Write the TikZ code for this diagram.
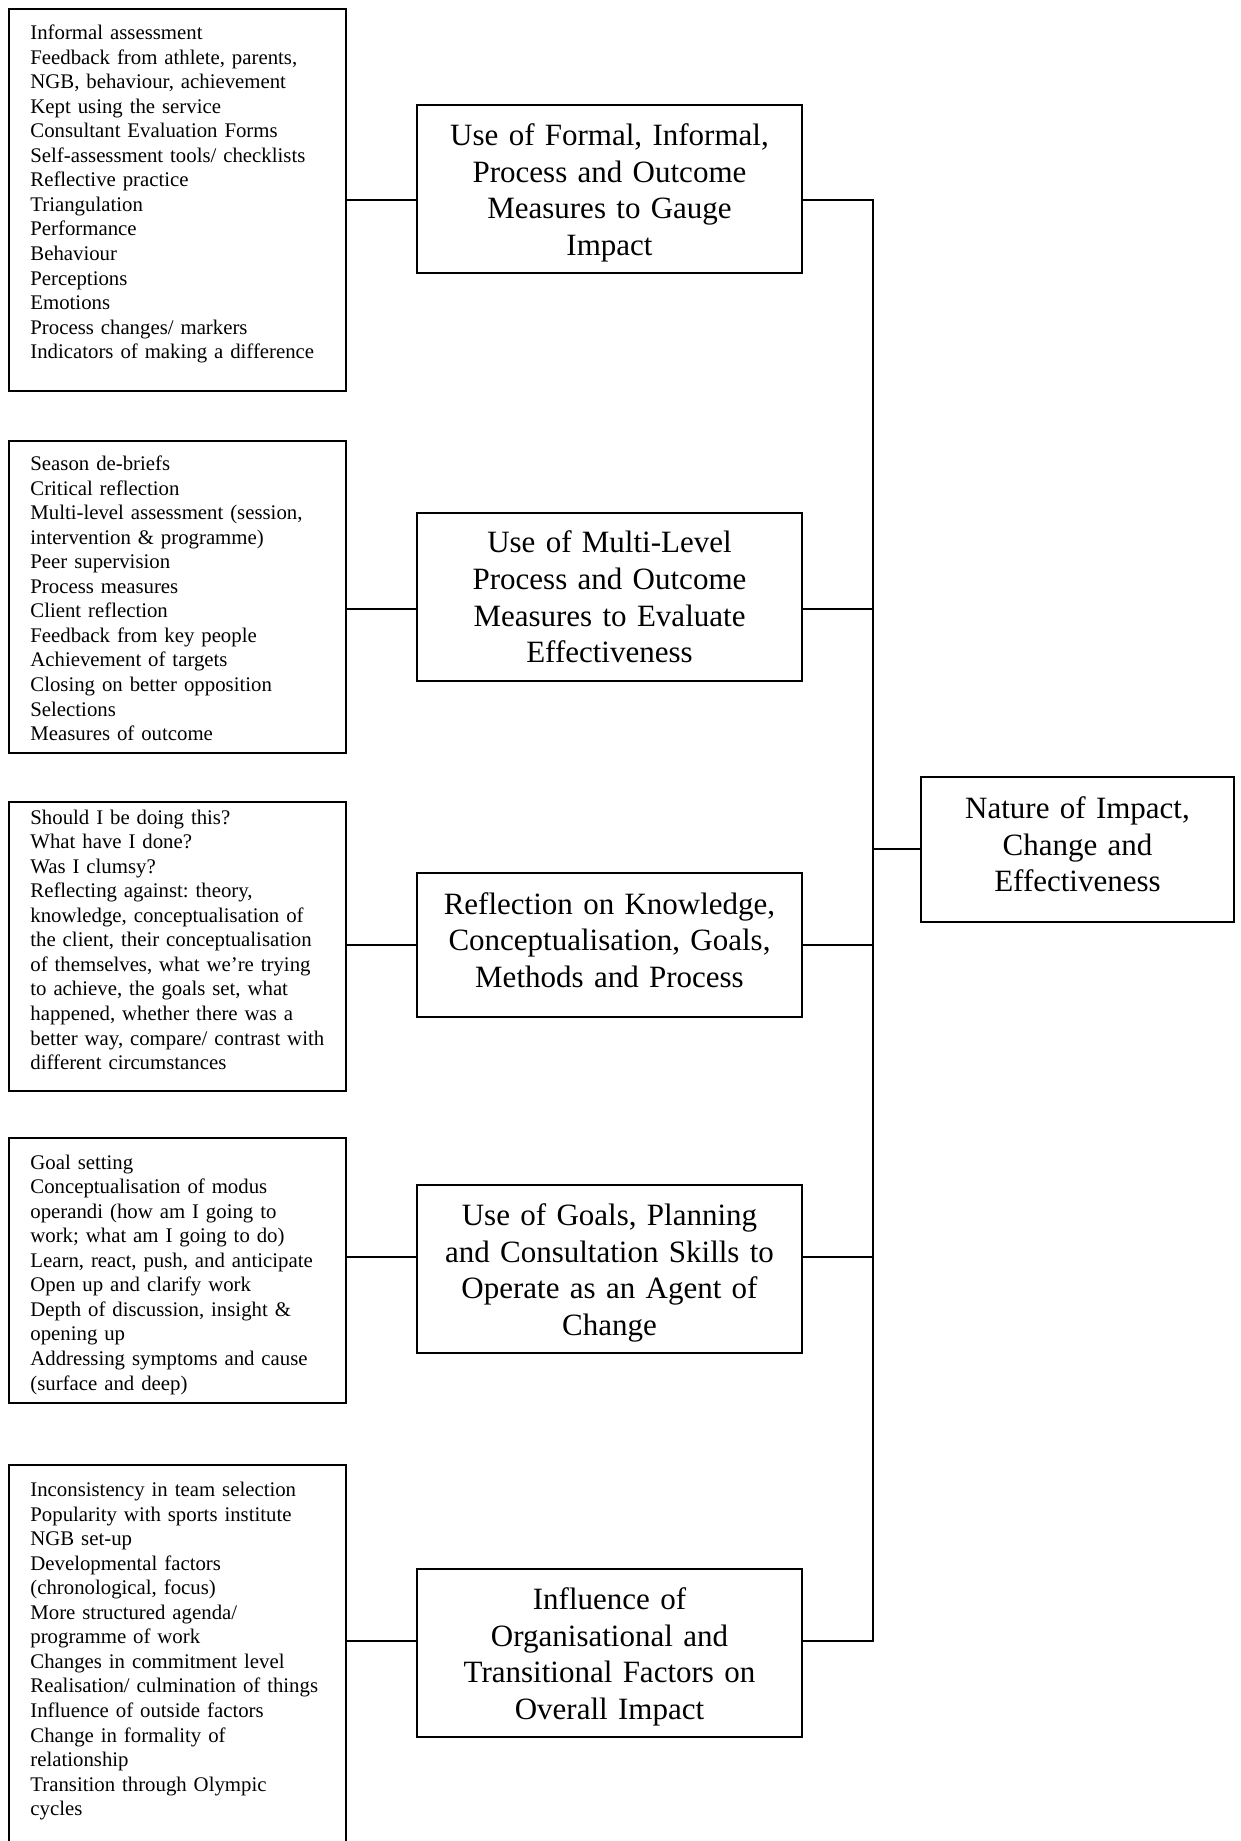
\documentclass[tikz,border=0pt]{standalone}
\usepackage{fontspec}
\setmainfont{Liberation Serif}
\frenchspacing
\tikzset{
  % one drawing unit = one pixel of the 1241 x 1841 sheet, y growing downwards
  x=0.5pt, y=-0.5pt,
  frame/.style={draw, line width=0.9pt, inner sep=0pt},
  itembox/.style={frame, minimum width=168.5pt},
  listtext/.style={anchor=base west, inner sep=0pt, text width=165pt, align=left,
    font=\fontsize{10.4}{12.28}\selectfont},
  themebox/.style={frame, minimum width=192.5pt, minimum height=84pt},
  themetext/.style={inner sep=0pt, text width=185pt, align=center,
    font=\fontsize{15.5}{18.3}\selectfont},
  link/.style={line width=0.9pt}
}
\begin{document}
\begin{tikzpicture}
\clip (0,0) rectangle (1241,1841);

% central theme
\node[themebox, minimum width=156.5pt, minimum height=72.5pt] (nat) at (1077.5,849.5) {};
\node[themetext, text width=150pt] (natt) at (1077.5,844.5)
  {Nature of Impact,\\ Change and\\ Effectiveness};

% junctions on the trunk that joins the five sub-themes to it
\coordinate (j1) at (873,200);
\coordinate (j2) at (873,609);
\coordinate (j3) at (873,945);
\coordinate (j4) at (873,1257);
\coordinate (j5) at (873,1641);
\coordinate (jn) at (873,849);

% sub-themes
\node[themebox] (m1) at (609.5,189) {};
\node[themetext] (h1) at (609.5,193)
  {Use of Formal, Informal,\\ Process and Outcome\\ Measures to Gauge\\ Impact};
\node[themebox] (m2) at (609.5,597) {};
\node[themetext] (h2) at (609.5,597)
  {Use of Multi-Level\\ Process and Outcome\\ Measures to Evaluate\\ Effectiveness};
\node[themebox, minimum height=72pt] (m3) at (609.5,945) {};
\node[themetext] (h3) at (609.5,940)
  {Reflection on Knowledge,\\ Conceptualisation, Goals,\\ Methods and Process};
\node[themebox] (m4) at (609.5,1269) {};
\node[themetext] (h4) at (609.5,1273)
  {Use of Goals, Planning\\ and Consultation Skills to\\ Operate as an Agent of\\ Change};
\node[themebox] (m5) at (609.5,1653) {};
\node[themetext] (h5) at (609.5,1657)
  {Influence of\\ Organisational and\\ Transitional Factors on\\ Overall Impact};

% boxes listing the codes behind each sub-theme
\node[itembox, minimum height=191pt] (b1) at (177.5,200) {};
\node[itembox, minimum height=156pt] (b2) at (177.5,597) {};
\node[itembox, minimum height=144.5pt] (b3) at (177.5,946.5) {};
\node[itembox, minimum height=132.5pt] (b4) at (177.5,1270.5) {};
\node[itembox, minimum height=197.5pt] (b5) at (177.5,1662.5) {};

\node[listtext] (t1) at (30,39.5) {Informal assessment\\
Feedback from athlete, parents,\\
NGB, behaviour, achievement\\
Kept using the service\\
Consultant Evaluation Forms\\
Self-assessment tools/ checklists\\
Reflective practice\\
Triangulation\\
Performance\\
Behaviour\\
Perceptions\\
Emotions\\
Process changes/ markers\\
Indicators of making a difference};

\node[listtext] (t2) at (30,470.5) {Season de-briefs\\
Critical reflection\\
Multi-level assessment (session,\\
intervention \& programme)\\
Peer supervision\\
Process measures\\
Client reflection\\
Feedback from key people\\
Achievement of targets\\
Closing on better opposition\\
Selections\\
Measures of outcome};

\node[listtext] (t3) at (30,824) {Should I be doing this?\\
What have I done?\\
Was I clumsy?\\
Reflecting against: theory,\\
knowledge, conceptualisation of\\
the client, their conceptualisation\\
of themselves, what we’re trying\\
to achieve, the goals set, what\\
happened, whether there was a\\
better way, compare/ contrast with\\
different circumstances};

\node[listtext] (t4) at (30,1169) {Goal setting\\
Conceptualisation of modus\\
operandi (how am I going to\\
work; what am I going to do)\\
Learn, react, push, and anticipate\\
Open up and clarify work\\
Depth of discussion, insight \&\\
opening up\\
Addressing symptoms and cause\\
(surface and deep)};

\node[listtext] (t5) at (30,1496.5) {Inconsistency in team selection\\
Popularity with sports institute\\
NGB set-up\\
Developmental factors\\
(chronological, focus)\\
More structured agenda/\\
programme of work\\
Changes in commitment level\\
Realisation/ culmination of things\\
Influence of outside factors\\
Change in formality of\\
relationship\\
Transition through Olympic\\
cycles};

% connectors
\draw[link] (b1.east |- j1) -- (m1.west |- j1);
\draw[link] (b2.east |- j2) -- (m2.west |- j2);
\draw[link] (b3.east |- j3) -- (m3.west |- j3);
\draw[link] (b4.east |- j4) -- (m4.west |- j4);
\draw[link] (b5.east |- j5) -- (m5.west |- j5);

\draw[link] (m1.east |- j1) -- (j1) -- (j5) -- (m5.east |- j5);
\draw[link] (m2.east |- j2) -- (j2);
\draw[link] (m3.east |- j3) -- (j3);
\draw[link] (m4.east |- j4) -- (j4);
\draw[link] (jn) -- (nat.west |- jn);
\end{tikzpicture}
\end{document}
